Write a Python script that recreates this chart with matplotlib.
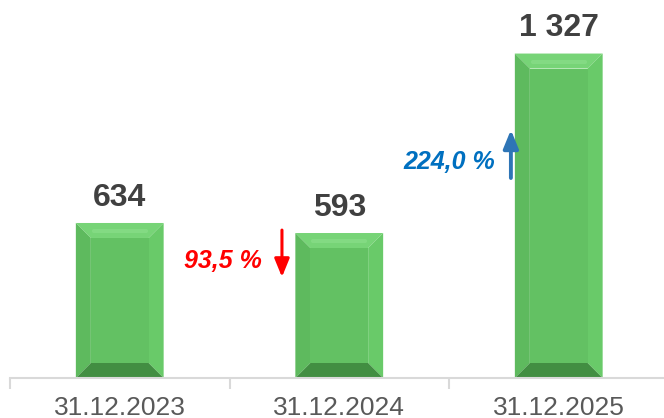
import numpy as np
import matplotlib
matplotlib.use("Agg")
import matplotlib.pyplot as plt
from matplotlib.patches import Polygon

plt.rcParams['font.family'] = ['Liberation Sans', 'DejaVu Sans']

dates = ['31.12.2023', '31.12.2024', '31.12.2025']
values = [634, 593, 1327]
value_labels = ['634', '593', '1 327']
change_labels = ['93,5 %', '224,0 %']   # between year 1-2 and 2-3
change_up = [False, True]

fig = plt.figure(figsize=(6.64, 4.18), dpi=100)
# axes run a bit past the right edge, like the source picture
ax = fig.add_axes([10 / 664, 40 / 418, 658.5 / 664, 378 / 418])
ax.set_xlim(-0.5, 2.5)
ax.set_ylim(0, 1546)

x = np.arange(len(values))
bar_w = 0.4

# bevel size in pixels -> data units
bev_px = 15
ax_w_px = 658.5
ax_h_px = 378
bx = bev_px / ax_w_px * 3.0
by = bev_px / ax_h_px * 1546


def bevel_bar(xc, h):
    l, r = xc - bar_w / 2, xc + bar_w / 2
    il, ir = l + bx, r - bx
    ib, it = by, h - by
    face = '#63C163'
    top = '#77D477'
    left = '#5EBA5E'
    right = '#69CA69'
    bottom = '#428E42'
    ax.add_patch(Polygon([[l, h], [r, h], [ir, it], [il, it]], closed=True, fc=top, ec='none'))
    ax.add_patch(Polygon([[l, 0], [l, h], [il, it], [il, ib]], closed=True, fc=left, ec='none'))
    ax.add_patch(Polygon([[r, 0], [r, h], [ir, it], [ir, ib]], closed=True, fc=right, ec='none'))
    ax.add_patch(Polygon([[l, 0], [r, 0], [ir, ib], [il, ib]], closed=True, fc=bottom, ec='none'))
    ax.add_patch(Polygon([[il, ib], [ir, ib], [ir, it], [il, it]], closed=True, fc=face, ec='none'))
    # soft streak on the top bevel
    ax.plot([il + bx * 0.2, ir - bx * 0.2], [h - by * 0.55, h - by * 0.55], color='#93E393', lw=3,
            solid_capstyle='round', alpha=0.45)


for xi, v, lab in zip(x, values, value_labels):
    bevel_bar(xi, v)
    ax.text(xi, v + 42, lab, ha='center', va='bottom', fontsize=23, fontweight='bold', color='#404040')

# change markers
red = '#FF0000'
blue_txt = '#0070C0'
blue_arr = '#2E75B6'

# 2023 -> 2024 (down)
ax.annotate('', xy=(0.739, 413), xytext=(0.739, 605),
            arrowprops=dict(arrowstyle='-|>,head_width=0.45,head_length=1.1', color=red, lw=2.2,
                            shrinkA=0, shrinkB=0))
ax.text(0.648, 478, change_labels[0], ha='right', va='center', fontsize=18, fontweight='bold',
        fontstyle='italic', color=red)

# 2024 -> 2025 (up)
ax.annotate('', xy=(1.782, 1015), xytext=(1.782, 818),
            arrowprops=dict(arrowstyle='-|>,head_width=0.45,head_length=1.1', color=blue_arr, lw=2.8,
                            shrinkA=0, shrinkB=0))
ax.text(1.71, 884, change_labels[1], ha='right', va='center', fontsize=18, fontweight='bold',
        fontstyle='italic', color=blue_txt)

for s in ['top', 'right', 'left']:
    ax.spines[s].set_visible(False)
ax.spines['bottom'].set_color('#D9D9D9')
ax.spines['bottom'].set_linewidth(1.5)
ax.set_yticks([])
ax.set_xticks(x)
ax.set_xticklabels(dates, fontsize=19, color='#595959')
ax.tick_params(axis='x', which='major', length=0, pad=13)
ax.set_xticks([-0.5, 0.5, 1.5, 2.5], minor=True)
ax.tick_params(axis='x', which='minor', length=8, width=1.5, color='#D9D9D9')

fig.savefig('out.png', dpi=100)
